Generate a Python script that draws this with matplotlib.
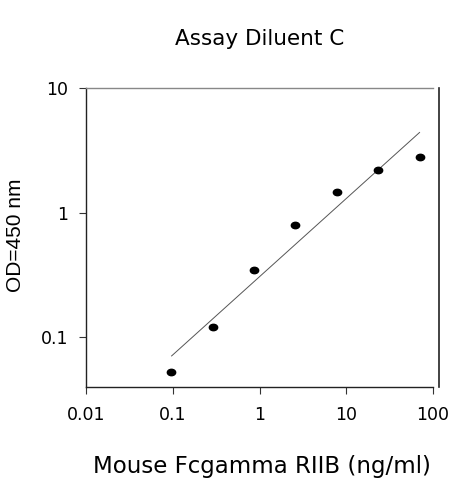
import matplotlib
matplotlib.use("Agg")
import matplotlib.pyplot as plt
from matplotlib.path import Path
import matplotlib.transforms as mtransforms

# Data
conc = [0.096, 0.29, 0.87, 2.6, 7.8, 23.3, 70]
od = [0.053, 0.121, 0.35, 0.79, 1.46, 2.2, 2.82]
fit_x = [0.097, 70]
fit_y = [0.071, 4.4]
xticks = [0.01, 0.1, 1, 10, 100]
xticklabels = ["0.01", "0.1", "1", "10", "100"]
yticks = [0.1, 1, 10]
yticklabels = ["0.1", "1", "10"]

plt.rcParams['font.family'] = ['DejaVu Sans']

fig = plt.figure(figsize=(4.63, 4.80), dpi=100)
ax = fig.add_axes([86/463, (480-387)/480, (433-86)/463, (387-88)/480])

ell = Path.unit_circle().transformed(mtransforms.Affine2D().scale(1.3, 1.0))

ax.plot(fit_x, fit_y, color='#555555', lw=0.7, zorder=2)
ax.plot(conc, od, linestyle='none', marker=ell, color='black', ms=6, zorder=3)

ax.set_xscale('log')
ax.set_yscale('log')
ax.set_xlim(0.01, 100)
ax.set_ylim(0.04, 10)
ax.set_xticks(xticks)
ax.set_xticklabels(xticklabels)
ax.set_yticks(yticks)
ax.set_yticklabels(yticklabels)
ax.minorticks_off()
ax.tick_params(axis='both', direction='out', length=5, width=0.8, labelsize=12.5, color='#333333')
ax.tick_params(axis='x', pad=9)
ax.tick_params(axis='y', pad=8)

for s in ['left', 'bottom']:
    ax.spines[s].set_color('#222222')
    ax.spines[s].set_linewidth(1.0)
ax.spines['top'].set_color('#888888')
ax.spines['top'].set_linewidth(1.0)
ax.spines['right'].set_color('#222222')
ax.spines['right'].set_linewidth(1.2)
ax.spines['right'].set_position(('outward', 4))

fig.text(260/463, 1 - 45/480, "Assay Diluent C", ha='center', va='baseline', fontsize=15.5)
fig.text(262/463, 1 - 473/480, "Mouse Fcgamma RIIB (ng/ml)", ha='center', va='baseline', fontsize=16.5)
fig.text(16/463, 1 - 235/480, "OD=450 nm", ha='center', va='center', rotation=90,
         fontsize=15, family=['Liberation Sans', 'DejaVu Sans'])

fig.savefig("out.png", dpi=100)
